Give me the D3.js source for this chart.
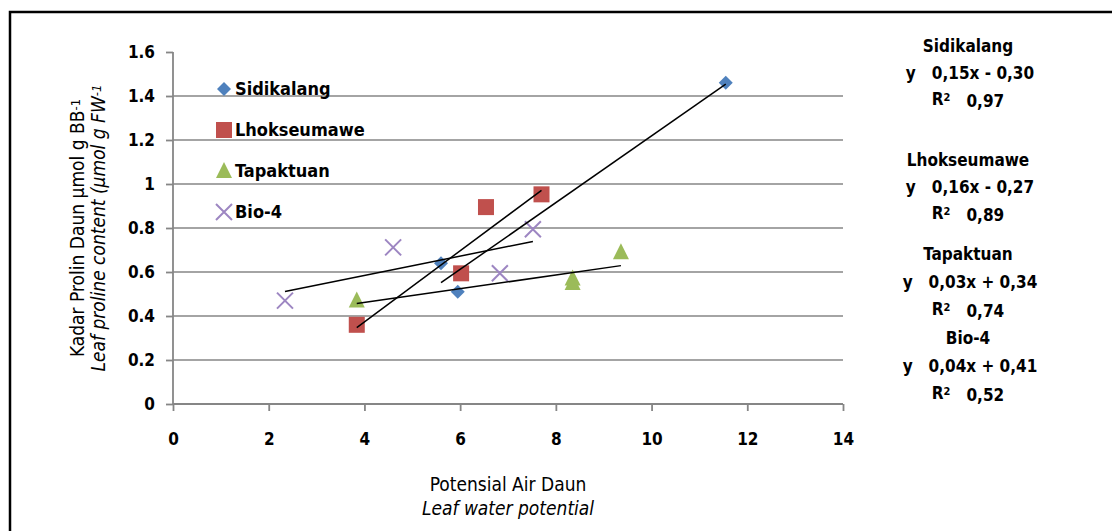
<!DOCTYPE html>
<html lang="id">
  <head>
    <meta charset="UTF-8" />
    <title>Kadar Prolin Daun</title>
    <script src="https://d3js.org/d3.v7.min.js"></script>
    <style>
      * {
        margin: 0;
        padding: 0;
      }
      body {
        background: #fff;
      }
      text {
        font-family: "DejaVu Sans Condensed", "Liberation Sans Narrow", sans-serif;
        font-weight: bold;
        fill: #000;
      }
      .legend-label {
        font-size: 18px;
      }
      .eq {
        font-size: 17px;
      }
      .axis-title {
        font-size: 19px;
        font-weight: normal;
      }
      .italic {
        font-style: italic;
      }
    </style>
  </head>

  <body></body>

  <script>
    // data
    const seriesNames = ["Sidikalang", "Lhokseumawe", "Tapaktuan", "Bio-4"];
    const sidikalangX = [5.6, 5.95, 11.55];
    const sidikalangY = [0.64, 0.51, 1.46];
    const lhokseumaweX = [3.84, 6.02, 6.54, 7.7];
    const lhokseumaweY = [0.36, 0.594, 0.895, 0.953];
    const tapaktuanX = [3.84, 8.35, 8.35, 9.36];
    const tapaktuanY = [0.47, 0.55, 0.57, 0.69];
    const bio4X = [2.34, 4.6, 6.83, 7.52];
    const bio4Y = [0.47, 0.712, 0.594, 0.794];

    const xTicks = [0, 2, 4, 6, 8, 10, 12, 14];
    const yTicks = [0, 0.2, 0.4, 0.6, 0.8, 1, 1.2, 1.4, 1.6];

    const equations = [
      ["y   0,15x - 0,30", "0,97"],
      ["y   0,16x - 0,27", "0,89"],
      ["y   0,03x + 0,34", "0,74"],
      ["y   0,04x + 0,41", "0,52"],
    ];

    const w = 1112;
    const h = 531;

    const svg = d3
      .select("body")
      .append("svg")
      .attr("width", w)
      .attr("height", h);

    // outer frame
    svg
      .append("rect")
      .attr("x", 10)
      .attr("y", 12)
      .attr("width", 1200)
      .attr("height", 600)
      .attr("fill", "none")
      .attr("stroke", "#000")
      .attr("stroke-width", 2.5);

    const x = d3.scaleLinear().domain([0, 14]).range([173, 843]);
    const y = d3.scaleLinear().domain([0, 1.6]).range([404, 52]);

    const grey = "#868686";

    // gridlines (not at the top)
    svg
      .append("g")
      .selectAll("line")
      .data(yTicks.filter((d) => d > 0 && d < 1.6))
      .enter()
      .append("line")
      .attr("x1", x(0))
      .attr("x2", x(14))
      .attr("y1", (d) => y(d))
      .attr("y2", (d) => y(d))
      .attr("stroke", grey)
      .attr("stroke-width", 1.5);

    // y axis
    const yAxis = svg
      .append("g")
      .attr("transform", "translate(" + x(0) + ",0)")
      .call(
        d3
          .axisLeft(y)
          .tickValues(yTicks)
          .tickSize(7)
          .tickPadding(11)
          .tickFormat(d3.format("~g"))
      );

    // x axis
    const xAxis = svg
      .append("g")
      .attr("transform", "translate(0," + y(0) + ")")
      .call(d3.axisBottom(x).tickValues(xTicks).tickSize(7).tickPadding(22));

    [yAxis, xAxis].forEach((a) => {
      a.attr("font-size", null).attr("font-family", null);
      a.select(".domain").attr("stroke", grey).attr("stroke-width", 1.8);
      a.selectAll(".tick line").attr("stroke", grey).attr("stroke-width", 1.8);
      a.selectAll(".tick text")
        .attr("fill", "#000")
        .style("font-size", "17px");
    });
    xAxis.select(".domain").attr("d", "M" + x(0) + ",0H" + x(14));
    yAxis.select(".domain").attr("d", "M0," + y(1.6) + "V" + y(0));

    // series
    const colors = ["#4F81BD", "#C0504D", "#9BBB59", "#9D86C2"];
    const seriesX = [sidikalangX, lhokseumaweX, tapaktuanX, bio4X];
    const seriesY = [sidikalangY, lhokseumaweY, tapaktuanY, bio4Y];

    function drawMarker(g, i, cx, cy) {
      if (i == 0) {
        g.append("path")
          .attr("d", "M0,-7L7,0L0,7L-7,0Z")
          .attr("transform", "translate(" + cx + "," + cy + ")")
          .attr("fill", colors[0]);
      } else if (i == 1) {
        g.append("rect")
          .attr("x", cx - 8)
          .attr("y", cy - 8)
          .attr("width", 16)
          .attr("height", 16)
          .attr("fill", colors[1]);
      } else if (i == 2) {
        g.append("path")
          .attr("d", "M0,-9L8,7L-8,7Z")
          .attr("transform", "translate(" + cx + "," + cy + ")")
          .attr("fill", colors[2]);
      } else {
        g.append("path")
          .attr("d", "M-8,-8L8,8M8,-8L-8,8")
          .attr("transform", "translate(" + cx + "," + cy + ")")
          .attr("stroke", colors[3])
          .attr("stroke-width", 2);
      }
    }

    // least squares trendline over each series' range
    function fit(xs, ys) {
      const mx = d3.mean(xs);
      const my = d3.mean(ys);
      let sxy = 0;
      let sxx = 0;
      xs.forEach((v, k) => {
        sxy += (v - mx) * (ys[k] - my);
        sxx += (v - mx) * (v - mx);
      });
      const b = sxy / sxx;
      return [b, my - b * mx];
    }

    const markers = svg.append("g").attr("class", "markers");
    seriesX.forEach((xs, i) => {
      xs.forEach((v, k) => drawMarker(markers, i, x(v), y(seriesY[i][k])));
    });

    const trend = svg.append("g").attr("class", "trend");
    seriesX.forEach((xs, i) => {
      const [b, a] = fit(xs, seriesY[i]);
      const x0 = d3.min(xs);
      const x1 = d3.max(xs);
      trend
        .append("line")
        .attr("x1", x(x0))
        .attr("y1", y(a + b * x0))
        .attr("x2", x(x1))
        .attr("y2", y(a + b * x1))
        .attr("stroke", "#000")
        .attr("stroke-width", 1.5);
    });

    // legend
    const legend = svg.append("g").attr("class", "legend");
    const legendY = [89, 130, 171, 212];
    seriesNames.forEach((name, i) => {
      drawMarker(legend, i, 224, legendY[i]);
      legend
        .append("text")
        .attr("class", "legend-label")
        .attr("x", 235)
        .attr("y", legendY[i])
        .attr("dy", "0.35em")
        .text(name);
    });

    // equations on the right
    const eqTop = [46, 160, 254, 338];
    const eq = svg.append("g").attr("class", "equations");
    seriesNames.forEach((name, i) => {
      const t0 = eqTop[i];
      const gap = i < 2 ? 27 : 28;
      eq.append("text")
        .attr("class", "eq")
        .attr("x", 968)
        .attr("y", t0)
        .attr("dy", "0.35em")
        .attr("text-anchor", "middle")
        .text(name);
      eq.append("text")
        .attr("class", "eq")
        .attr("x", 970)
        .attr("y", t0 + gap)
        .attr("dy", "0.35em")
        .attr("text-anchor", "middle")
        .attr("xml:space", "preserve")
        .style("white-space", "pre")
        .text(equations[i][0]);
      const r = eq
        .append("text")
        .attr("class", "eq")
        .attr("x", 968)
        .attr("y", t0 + gap * 2 - 1)
        .attr("dy", "0.35em")
        .attr("text-anchor", "middle")
        .attr("xml:space", "preserve")
        .style("white-space", "pre");
      r.append("tspan").text("R");
      r.append("tspan").attr("dy", "-0.4em").style("font-size", "11px").text("2");
      r.append("tspan").attr("dy", "0.4em").text("   " + equations[i][1]);
    });

    // y axis title
    const yTitle = svg
      .append("g")
      .attr("transform", "translate(77,228) rotate(-90)");
    const yt1 = yTitle
      .append("text")
      .attr("class", "axis-title")
      .attr("text-anchor", "middle")
      .attr("dy", "0.35em");
    yt1.append("tspan").text("Kadar Prolin Daun µmol g BB");
    yt1.append("tspan").attr("dy", "-0.3em").style("font-size", "13px").text("-1");
    const yt2 = yTitle
      .append("text")
      .attr("class", "axis-title italic")
      .attr("text-anchor", "middle")
      .attr("y", 21)
      .attr("dy", "0.35em");
    yt2.append("tspan").text("Leaf proline content (µmol g FW");
    yt2.append("tspan").attr("dy", "-0.3em").style("font-size", "13px").text("-1");

    // x axis title
    svg
      .append("text")
      .attr("class", "axis-title")
      .attr("x", 508)
      .attr("y", 484)
      .attr("dy", "0.35em")
      .attr("text-anchor", "middle")
      .text("Potensial Air Daun");
    svg
      .append("text")
      .attr("class", "axis-title italic")
      .attr("x", 508)
      .attr("y", 508)
      .attr("dy", "0.35em")
      .attr("text-anchor", "middle")
      .text("Leaf water potential");
  </script>
</html>
